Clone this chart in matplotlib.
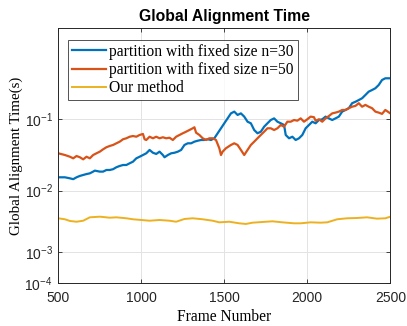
import numpy as np
import matplotlib
matplotlib.use("Agg")
import matplotlib.pyplot as plt

# values (frame number, time in seconds)
frames_n30 = [500, 540, 570, 590, 610, 630, 650, 670, 690, 710, 720, 750, 770, 790, 810,
              830, 850, 870, 890, 910, 930, 950, 970, 990, 1010, 1030, 1050, 1070, 1090, 1110,
              1130, 1140, 1160, 1180, 1200, 1220, 1240, 1260, 1280, 1300, 1320, 1340, 1360, 1380,
              1400, 1420, 1440, 1460, 1480, 1500, 1520, 1540, 1560, 1580, 1600, 1620, 1640, 1660,
              1680, 1700, 1720, 1740, 1760, 1780, 1800, 1820, 1840, 1860, 1870, 1890, 1910, 1930,
              1950, 1970, 1990, 2010, 2030, 2050, 2070, 2090, 2110, 2130, 2150, 2170, 2190, 2210,
              2230, 2250, 2270, 2290, 2310, 2330, 2350, 2370, 2390, 2410, 2430, 2450, 2470, 2500]
time_n30 = [0.0154, 0.0154, 0.0149, 0.0145, 0.0154, 0.0161, 0.0166, 0.0171, 0.0175, 0.0185,
            0.0191, 0.0185, 0.0185, 0.0195, 0.0195, 0.0200, 0.0213, 0.0222, 0.0229, 0.0229,
            0.0242, 0.0255, 0.0284, 0.0299, 0.0316, 0.0334, 0.0372, 0.0340, 0.0327, 0.0352,
            0.0316, 0.0294, 0.0316, 0.0334, 0.0340, 0.0352, 0.0372, 0.0437, 0.0461, 0.0461,
            0.0486, 0.0501, 0.0513, 0.0513, 0.0525, 0.0513, 0.0542, 0.0637, 0.0748, 0.0879,
            0.103, 0.121, 0.128, 0.115, 0.121, 0.109, 0.0925, 0.0879, 0.0708, 0.0637,
            0.0670, 0.0788, 0.0879, 0.0977, 0.103, 0.0925, 0.0879, 0.0832, 0.0603, 0.0542,
            0.0570, 0.0513, 0.0542, 0.0603, 0.0748, 0.0832, 0.0925, 0.0879, 0.0977, 0.100,
            0.109, 0.103, 0.0977, 0.103, 0.109, 0.128, 0.135, 0.143, 0.168, 0.176,
            0.186, 0.197, 0.219, 0.244, 0.257, 0.272, 0.302, 0.355, 0.375, 0.375]

frames_n50 = [500, 540, 570, 590, 610, 630, 650, 670, 690, 710, 730, 750, 770, 790, 810,
              830, 850, 870, 890, 910, 930, 950, 970, 990, 1010, 1020, 1030, 1050, 1070, 1090,
              1110, 1130, 1150, 1170, 1190, 1210, 1230, 1250, 1270, 1290, 1310, 1320, 1330, 1350,
              1370, 1390, 1410, 1430, 1450, 1470, 1480, 1490, 1510, 1540, 1560, 1580, 1600, 1620,
              1640, 1660, 1680, 1700, 1720, 1740, 1760, 1780, 1800, 1820, 1840, 1860, 1880, 1900,
              1920, 1940, 1960, 1980, 2000, 2020, 2040, 2050, 2070, 2090, 2110, 2130, 2150, 2170,
              2190, 2210, 2230, 2250, 2270, 2290, 2310, 2330, 2350, 2370, 2390, 2410, 2430, 2450,
              2470, 2500]
time_n50 = [0.0334, 0.0316, 0.0299, 0.0284, 0.0306, 0.0294, 0.0275, 0.0299, 0.0284, 0.0316,
            0.0334, 0.0352, 0.0380, 0.0406, 0.0423, 0.0437, 0.0461, 0.0486, 0.0525, 0.0542,
            0.0570, 0.0583, 0.0570, 0.0603, 0.0623, 0.0525, 0.0513, 0.0570, 0.0542, 0.0570,
            0.0542, 0.0560, 0.0542, 0.0552, 0.0513, 0.0570, 0.0603, 0.0637, 0.0670, 0.0708,
            0.0748, 0.0773, 0.0649, 0.0603, 0.0542, 0.0513, 0.0542, 0.0542, 0.0513, 0.0393,
            0.0316, 0.0352, 0.0393, 0.0437, 0.0461, 0.0437, 0.0372, 0.0316, 0.0372, 0.0437,
            0.0486, 0.0542, 0.0603, 0.0670, 0.0748, 0.0748, 0.0708, 0.0748, 0.0832, 0.0788,
            0.0925, 0.0925, 0.0977, 0.0956, 0.103, 0.0925, 0.100, 0.109, 0.107, 0.0956,
            0.100, 0.0925, 0.103, 0.111, 0.121, 0.124, 0.128, 0.135, 0.135, 0.143,
            0.150, 0.154, 0.168, 0.150, 0.159, 0.150, 0.143, 0.128, 0.124, 0.119,
            0.135, 0.121]

frames_ours = [500, 540, 570, 610, 650, 690, 750, 810, 850, 910, 950, 1000, 1050, 1110, 1170,
               1210, 1260, 1310, 1370, 1430, 1470, 1530, 1590, 1630, 1670, 1730, 1790, 1850,
               1920, 1960, 2020, 2080, 2120, 2180, 2240, 2300, 2360, 2420, 2470, 2500]
time_ours = [0.00353, 0.00340, 0.00319, 0.00310, 0.00322, 0.00366, 0.00375, 0.00361, 0.00366,
             0.00353, 0.00340, 0.00331, 0.00322, 0.00331, 0.00322, 0.00310, 0.00344, 0.00353,
             0.00340, 0.00322, 0.00303, 0.00310, 0.00292, 0.00285, 0.00299, 0.00307, 0.00315,
             0.00303, 0.00292, 0.00292, 0.00303, 0.00299, 0.00303, 0.00340, 0.00353, 0.00357,
             0.00366, 0.00348, 0.00353, 0.00375]

labels = ["partition with fixed size n=30", "partition with fixed size n=50", "Our method"]
colors = ["#0072BD", "#D95319", "#EDB120"]
y_ticks = [1e-4, 1e-3, 1e-2, 1e-1]
x_ticks = [500, 1000, 1500, 2000, 2500]

# the y axis of the reference is log-like but the decades are not evenly spaced
decade_log = [-4, -3, -2, -1, 0.5]
decade_pos = [0.0, 31.0, 92.0, 163.4, 270.5]


def forward(y):
    y = np.asarray(y, dtype=float)
    return np.interp(np.log10(np.clip(y, 1e-12, None)), decade_log, decade_pos)


def inverse(p):
    return 10 ** np.interp(np.asarray(p, dtype=float), decade_pos, decade_log)


plt.rcParams["mathtext.fontset"] = "custom"
plt.rcParams["mathtext.rm"] = "Liberation Sans"

fig = plt.figure(figsize=(4.07, 3.26), dpi=100)
ax = fig.add_axes([0.1432, 0.1328, 0.959 - 0.1432, 0.9132 - 0.1328])

ax.plot(frames_n30, time_n30, color=colors[0], lw=1.6, label=labels[0])
ax.plot(frames_n50, time_n50, color=colors[1], lw=1.6, label=labels[1])
ax.plot(frames_ours, time_ours, color=colors[2], lw=1.4, label=labels[2])

ax.set_yscale("function", functions=(forward, inverse))
ax.set_xlim(500, 2500)
ax.set_ylim(1e-4, 1.88)
ax.set_xticks(x_ticks)
ax.set_yticks(y_ticks)
ax.set_yticklabels([r"$\mathregular{10^{%d}}$" % int(np.log10(t)) for t in y_ticks])
ax.minorticks_off()

ax.grid(True, color="#e3e3e3", lw=0.7)
ax.set_axisbelow(True)
for s in ax.spines.values():
    s.set_color("#262626")
    s.set_linewidth(0.7)
ax.tick_params(direction="in", length=3, width=0.6, color="#262626",
               top=True, right=True, labelsize=10, labelcolor="#262626")
ax.tick_params(axis="x", pad=6)
ax.tick_params(axis="y", pad=4)
for lab in ax.get_xticklabels() + ax.get_yticklabels():
    lab.set_fontfamily("Liberation Sans")

ax.set_title("Global Alignment Time", fontfamily="Liberation Sans", fontweight="bold",
             fontsize=11.3, pad=5)
ax.set_xlabel("Frame Number", fontfamily="Liberation Serif", fontsize=11.2, labelpad=3)
ax.set_ylabel("Global Alignment Time(s)", fontfamily="Liberation Serif", fontsize=10.8, labelpad=1)

leg = ax.legend(loc="upper left", bbox_to_anchor=(0.03, 0.955),
                prop={"family": "Liberation Serif", "size": 11.2},
                frameon=True, fancybox=False, edgecolor="#262626", handlelength=2.2,
                handletextpad=0.2, borderpad=0.25, labelspacing=0.15, borderaxespad=0)
leg.get_frame().set_linewidth(0.7)

fig.savefig("out.png", dpi=100)
